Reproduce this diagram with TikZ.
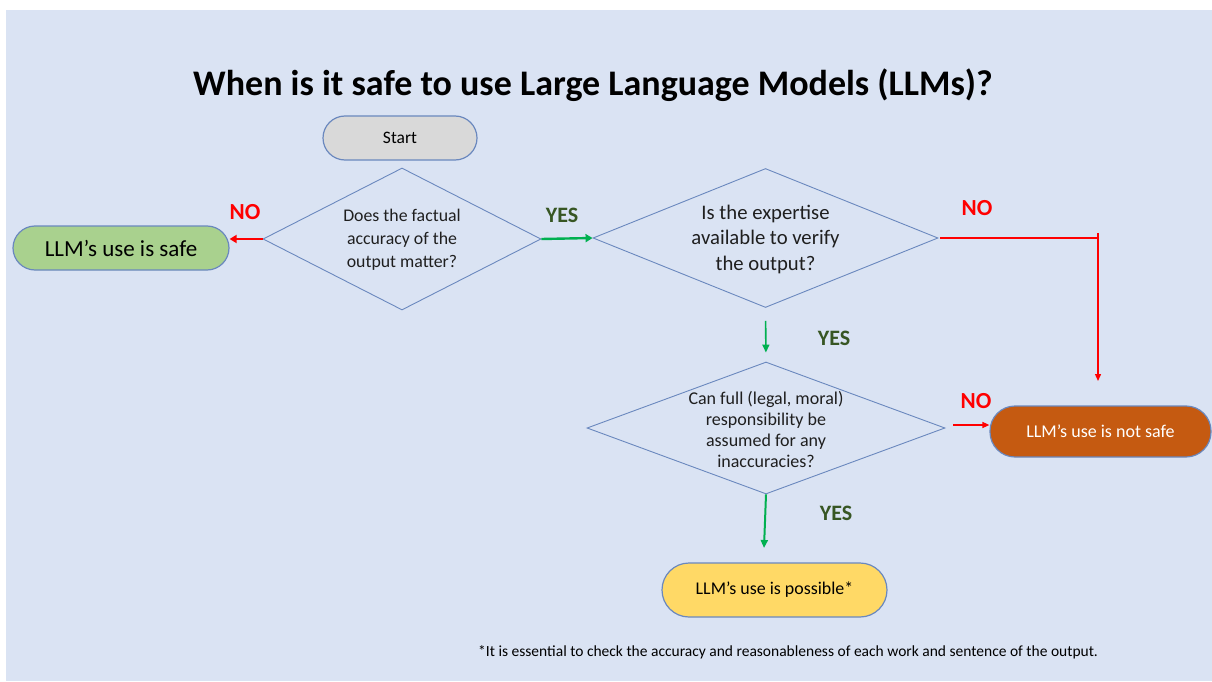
\documentclass[tikz,border=0pt]{standalone}
\usepackage{fontspec}
\setmainfont{Carlito}
\usetikzlibrary{arrows.meta,shapes.geometric}
\definecolor{bgblue}{HTML}{DAE3F3}
\definecolor{edgeblue}{HTML}{6A88BE}
\definecolor{redline}{HTML}{FF0000}
\definecolor{greenline}{HTML}{00B050}
\definecolor{yesgreen}{HTML}{375623}
\definecolor{safefill}{HTML}{A9D18E}
\definecolor{startfill}{HTML}{D9D9D9}
\definecolor{notsafefill}{HTML}{C55A11}
\definecolor{possfill}{HTML}{FFD966}
\newcommand{\fs}[2]{\fontsize{#1}{#2}\selectfont}
\tikzset{
  term/.style={draw=edgeblue, line width=1.2pt, rectangle, rounded corners=22pt, inner sep=0pt, align=center},
  decision/.style={draw=edgeblue, line width=0.9pt, diamond, inner sep=0pt},
  qtext/.style={align=center, text=black!88, inner sep=0pt},
  noarrow/.style={draw=redline, line width=2.4pt, -{Triangle[length=7pt,width=8pt]}},
  thinred/.style={draw=redline, line width=1.4pt},
  thinredarrow/.style={draw=redline, line width=1.4pt, -{Triangle[length=7pt,width=6pt]}},
  yesarrow/.style={draw=greenline, line width=2.4pt, -{Triangle[length=7pt,width=8pt]}},
  thingreen/.style={draw=greenline, line width=1.6pt, -{Triangle[length=8pt,width=7pt]}},
  nolabel/.style={text=redline, font=\bfseries\fs{23}{26}, inner sep=0pt},
  yeslabel/.style={text=yesgreen, font=\bfseries\fs{22}{26}, inner sep=0pt}
}
\begin{document}
\begin{tikzpicture}[x=1pt,y=-1pt]
\useasboundingbox (0,0) rectangle (1212,682);
\fill[white] (0,0) rectangle (1212,682);
\fill[bgblue] (6,10) rectangle (1212,681);

\node[font=\bfseries\fs{36}{40}, inner sep=0pt] (title) at (593,85) {When is it safe to use Large Language Models (LLMs)?};

\node[term, fill=startfill, minimum width=154pt, minimum height=44pt, font=\fs{17.5}{20}] (start) at (400,138) {Start};

\node[decision, minimum width=278pt, minimum height=142pt] (d1) at (402,239) {};
\node[qtext, font=\fs{17.8}{23}] (t1) at (402,240) {Does the factual\\accuracy of the\\output matter?};

\node[decision, minimum width=345pt, minimum height=139pt] (d2) at (765.5,238) {};
\node[qtext, font=\fs{20.7}{25.5}] (t2) at (765.5,239) {Is the expertise\\available to verify\\the output?};

\node[decision, minimum width=358pt, minimum height=132pt] (d3) at (766,428) {};
\node[qtext, font=\fs{18}{21}] (t3) at (766,429) {Can full (legal, moral)\\responsibility be\\assumed for any\\inaccuracies?};

\node[term, fill=safefill, minimum width=216pt, minimum height=44pt, font=\fs{23}{26}] (safe) at (121,248) {LLM’s use is safe};
\node[term, fill=notsafefill, text=white, minimum width=221pt, minimum height=51pt, rounded corners=25pt, font=\fs{18}{21}] (notsafe) at (1100.5,431.5) {LLM’s use is not safe};
\node[term, fill=possfill, minimum width=225pt, minimum height=54pt, rounded corners=27pt, font=\fs{17.9}{21}] (poss) at (774.5,590) {LLM’s use is possible*};

\node[anchor=west, inner sep=0pt, font=\fs{15.5}{18}] (foot) at (478,652) {*It is essential to check the accuracy and reasonableness of each work and sentence of the output.};

% connectors
\draw[noarrow] (d1.west) -- (d1.west -| safe.east);
\draw[yesarrow] (d1.east) -- (d2.west);

\coordinate (c0) at (1098,233);
\coordinate (c1) at (1098,238);
\coordinate (c2) at (1098,381);
\draw[thinred] ([xshift=2pt]d2.east) -- (c1);
\draw[thinredarrow] (c0) -- (c2);

\draw[thingreen, shorten <=13pt, shorten >=9pt] (d2.south) -- (d3.north);
\draw[thinredarrow, shorten <=8pt] ([yshift=3pt]d3.east) -- ([yshift=3pt]d3.east -| notsafe.west);
\coordinate (c3) at (764,548);
\draw[thingreen, line width=2pt] (d3.south) -- (c3);

% labels
\node[nolabel] (no1) at (245,212) {NO};
\node[yeslabel] (yes1) at (562,215) {YES};
\node[nolabel] (no2) at (977,208) {NO};
\node[yeslabel] (yes2) at (834,338) {YES};
\node[nolabel] (no3) at (976,401) {NO};
\node[yeslabel] (yes3) at (836,513) {YES};
\end{tikzpicture}
\end{document}
